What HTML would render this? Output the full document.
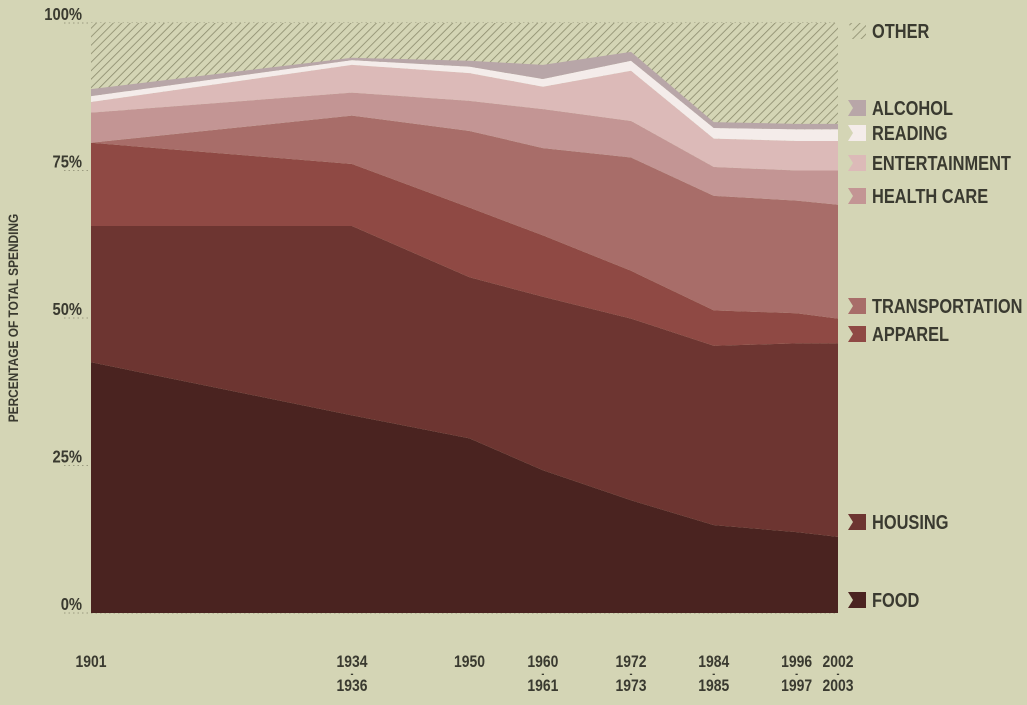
<!DOCTYPE html>
<html><head><meta charset="utf-8">
<style>
body{margin:0;width:1027px;height:700px;background:#d4d5b5;overflow:hidden;font-family:"Liberation Sans",sans-serif;}
svg text{font-family:"Liberation Sans",sans-serif;font-weight:bold;fill:#3a3a30;}
</style></head><body>
<svg id="chart" width="1027" height="700" xmlns="http://www.w3.org/2000/svg">
<defs>
<pattern id="hatch" patternUnits="userSpaceOnUse" width="6" height="6" patternTransform="rotate(45)">
<rect width="6" height="6" fill="#d4d5b5"/><line x1="0" y1="0" x2="0" y2="6" stroke="#8a8a6c" stroke-width="1.6"/>
</pattern>
</defs>
<g id="grid"></g><g id="areas"></g><g id="axes"></g><g id="legend"></g>
</svg>
<script>
const years=[1901,1934,1950,1960,1972,1984,1996,2002];
const yearLabels=["1901","1934","1950","1960","1972","1984","1996","2002"];
const yearLabels2=["","1936","","1961","1973","1985","1997","2003"];
const food=[42.5,33.5,29.6,24.2,19.1,14.9,13.7,12.9];
const housing=[23.1,32.1,27.3,29.4,30.8,30.4,32.0,32.8];
const apparel=[14.1,10.5,11.8,10.4,8.1,6.0,5.1,4.2];
const transportation=[0,8.2,13.0,14.8,19.2,19.4,19.1,19.3];
const healthCare=[5.1,3.9,5.1,6.6,6.2,4.9,5.1,5.8];
const entertainment=[1.8,4.7,4.7,3.8,8.5,4.8,5.0,5.0];
const reading=[1.0,0.8,1.1,1.3,1.7,1.8,2.0,2.0];
const alcohol=[1.2,0.4,1.0,2.4,1.5,1.0,0.9,0.9];
const yTicks=[0,25,50,75,100];

const NS="http://www.w3.org/2000/svg";
function mk(t,a,p){const e=document.createElementNS(NS,t);for(const k in a)e.setAttribute(k,a[k]);p.appendChild(e);return e;}
const X0=91,Y0=613,Y1=23;
function x(yr){
  if(yr<=1934)return X0+(yr-1901)*(352-X0)/33;
  if(yr<=1972)return 352+(yr-1934)*(631-352)/38;
  return 631+(yr-1972)*(838-631)/30;
}
function y(v){return Y0-(Y0-Y1)*v/100;}
function ctext(px,py,size,anchor,str,parent){
  const t=mk('text',{transform:`translate(${px},${py}) scale(0.82,1)`,"font-size":size,"text-anchor":anchor},parent);
  t.textContent=str;return t;
}
const series=[
 {name:"food",label:"FOOD",vals:food,color:"#4a2320",ly:600},
 {name:"housing",label:"HOUSING",vals:housing,color:"#6d3531",ly:522},
 {name:"apparel",label:"APPAREL",vals:apparel,color:"#8f4944",ly:334},
 {name:"transportation",label:"TRANSPORTATION",vals:transportation,color:"#a86d69",ly:306},
 {name:"health-care",label:"HEALTH CARE",vals:healthCare,color:"#c39594",ly:196},
 {name:"entertainment",label:"ENTERTAINMENT",vals:entertainment,color:"#dcbab8",ly:163},
 {name:"reading",label:"READING",vals:reading,color:"#f4ecea",ly:133},
 {name:"alcohol",label:"ALCOHOL",vals:alcohol,color:"#b8a6a8",ly:108}
];
const grid=document.getElementById('grid'),areas=document.getElementById('areas'),axes=document.getElementById('axes'),legend=document.getElementById('legend');
const other=mk('rect',{x:X0,y:Y1,width:838-X0,height:Y0-Y1,fill:"url(#hatch)"},areas);


let base=years.map(()=>0);
series.forEach(s=>{
  const top=base.map((b,i)=>b+s.vals[i]);
  let d="M"+years.map((yr,i)=>x(yr)+","+y(top[i])).join("L");
  for(let i=years.length-1;i>=0;i--)d+="L"+x(years[i])+","+y(base[i]);
  const p=mk('path',{d:d+"Z",fill:s.color},areas);
  
  
  base=top;
});
yTicks.forEach(t=>{
  const l=mk('line',{x1:64,x2:838,y1:y(t),y2:y(t),stroke:"#9a9a80","stroke-dasharray":"1.5 3"},grid);
  
  
  const tx=ctext(82,y(t)-3,"18","end",t+"%",axes);
  
  
});
years.forEach((yr,i)=>{
  const a=ctext(x(yr),667,"17","middle",yearLabels[i],axes);
  
  
  if(yearLabels2[i]){
    const dsh=ctext(x(yr),677,"11","middle","-",axes);
    
    
    const b=ctext(x(yr),691,"17","middle",yearLabels2[i],axes);
    
    
  }
});
const yt=mk('text',{transform:"translate(18,318) rotate(-90) scale(0.85,1)","text-anchor":"middle","font-size":"14"},axes);
yt.textContent="PERCENTAGE OF TOTAL SPENDING";


function legendEntry(label,fill,ly,name){
  const g=mk('g',{},legend);
  
  
  mk('path',{d:`M848,${ly-8}L866,${ly-8}L866,${ly+8}L848,${ly+8}L853,${ly}Z`,fill:fill},g);
  ctext(872,ly+7,"20","start",label,g);
}
legendEntry("OTHER","url(#hatch)",31,"other");
series.forEach(s=>legendEntry(s.label,s.color,s.ly,s.name));
</script>
</body></html>
